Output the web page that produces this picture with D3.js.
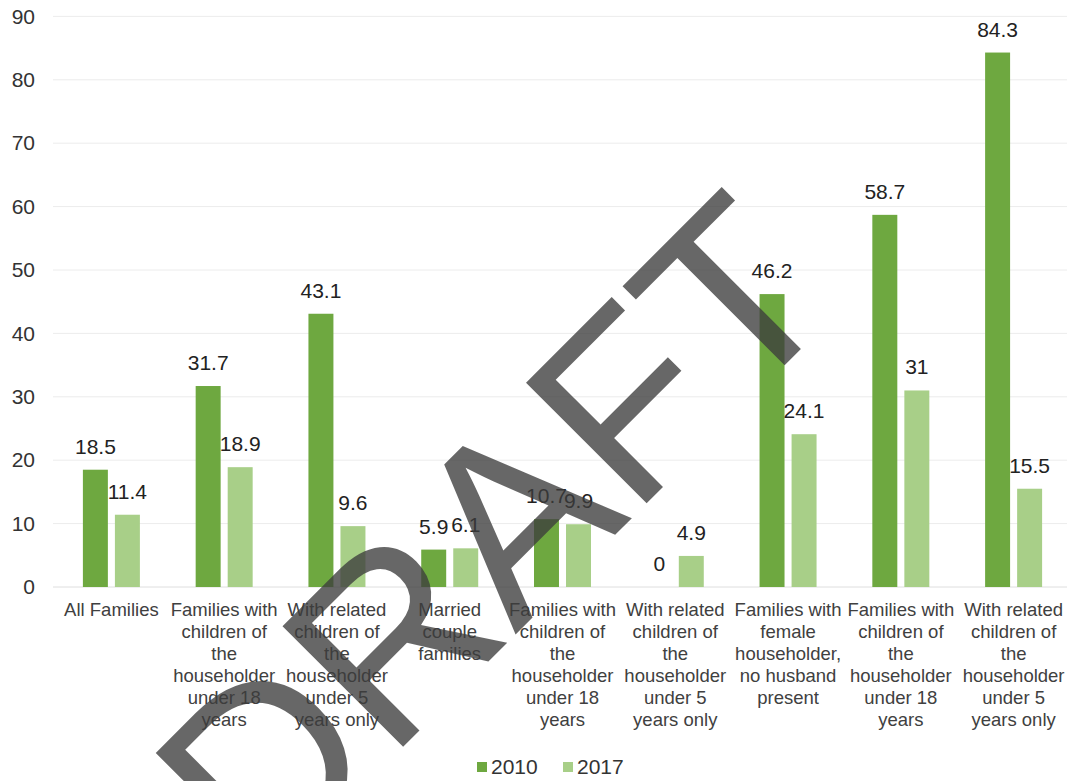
<!DOCTYPE html>
<html>
<head>
<meta charset="utf-8">
<script src="https://cdn.jsdelivr.net/npm/d3@7"></script>
<style>
  html, body { margin: 0; padding: 0; background: #fff; }
  svg { display: block; font-family: "Liberation Sans", Arial, sans-serif; }
</style>
</head>
<body>
<svg id="chart" width="1076" height="781"></svg>
<script>
// ---- data ----
const categories = [
  "All Families",
  "Families with children of the householder under 18 years",
  "With related children of the householder under 5 years only",
  "Married couple families",
  "Families with children of the householder under 18 years",
  "With related children of the householder under 5 years only",
  "Families with female householder, no husband present",
  "Families with children of the householder under 18 years",
  "With related children of the householder under 5 years only"
];
const categoryLines = [
  ["All Families"],
  ["Families with", "children of", "the", "householder", "under 18", "years"],
  ["With related", "children of", "the", "householder", "under 5", "years only"],
  ["Married", "couple", "families"],
  ["Families with", "children of", "the", "householder", "under 18", "years"],
  ["With related", "children of", "the", "householder", "under 5", "years only"],
  ["Families with", "female", "householder,", "no husband", "present"],
  ["Families with", "children of", "the", "householder", "under 18", "years"],
  ["With related", "children of", "the", "householder", "under 5", "years only"]
];
const seriesNames = ["2010", "2017"];
const values2010 = [18.5, 31.7, 43.1, 5.9, 10.7, 0, 46.2, 58.7, 84.3];
const values2017 = [11.4, 18.9, 9.6, 6.1, 9.9, 4.9, 24.1, 31, 15.5];
const yTicks = [0, 10, 20, 30, 40, 50, 60, 70, 80, 90];
const colors = ["#6EA840", "#A8CF88"];
const watermarkText = "DRAFT";

// ---- layout ----
const svg = d3.select("#chart");
const font = '"Liberation Sans", Arial, sans-serif';

const y = d3.scaleLinear().domain([0, 90]).range([587, 16.4]);
const x0 = d3.scaleBand().domain(d3.range(categories.length)).range([55, 1070]).paddingInner(0).paddingOuter(0);
const x1 = d3.scaleBand().domain(seriesNames).range([0, 57]).paddingInner(0.22).paddingOuter(0);

// gridlines
svg.append("g").selectAll("line").data(yTicks).join("line")
  .attr("x1", 53).attr("x2", 1067)
  .attr("y1", d => y(d)).attr("y2", d => y(d))
  .attr("stroke", d => d === 0 ? "#dedede" : "#ececec")
  .attr("stroke-width", 1);

// y axis labels
const yAxis = d3.axisLeft(y).tickValues(yTicks).tickSize(0).tickPadding(0);
const gy = svg.append("g").attr("transform", "translate(35,0)").call(yAxis);
gy.select(".domain").remove();
gy.selectAll("text").attr("font-size", 21).attr("font-family", font).attr("fill", "#333");

// bars
const data = categories.map((c, i) => ({ i, vals: [values2010[i], values2017[i]] }));
const groups = svg.append("g").selectAll("g").data(data).join("g")
  .attr("transform", d => `translate(${x0(d.i) + x0.bandwidth() / 2 - 28.5},0)`);

groups.selectAll("rect").data(d => d.vals.map((v, k) => ({ v, k }))).join("rect")
  .attr("x", d => x1(seriesNames[d.k]))
  .attr("width", x1.bandwidth())
  .attr("y", d => y(d.v))
  .attr("height", d => y(0) - y(d.v))
  .attr("fill", d => colors[d.k]);

groups.selectAll("text.val").data(d => d.vals.map((v, k) => ({ v, k }))).join("text")
  .attr("class", "val")
  .attr("x", d => x1(seriesNames[d.k]) + x1.bandwidth() / 2)
  .attr("y", d => y(d.v) - 16)
  .attr("text-anchor", "middle")
  .attr("font-size", 21)
  .attr("fill", "#222")
  .text(d => d.v);

// category labels
const cat = svg.append("g").selectAll("text").data(categoryLines).join("text")
  .attr("text-anchor", "middle")
  .attr("font-size", 18.5)
  .attr("fill", "#404040")
  .attr("transform", (d, i) => `translate(${x0(i) + x0.bandwidth() / 2},616)`);
cat.selectAll("tspan").data(d => d).join("tspan")
  .attr("x", 0)
  .attr("y", (d, j) => j * 22)
  .text(d => d);

// legend
const legend = svg.append("g").attr("transform", "translate(477,762)");
const litem = legend.selectAll("g").data(seriesNames).join("g")
  .attr("transform", (d, i) => `translate(${i * 86},0)`);
litem.append("rect").attr("width", 10).attr("height", 10).attr("fill", (d, i) => colors[i]);
litem.append("text").attr("x", 14).attr("y", 12).attr("font-size", 21).attr("fill", "#333").text(d => d);

// watermark
svg.append("text")
  .attr("transform", "translate(262,888) rotate(-45)")
  .attr("font-size", 248)
  .attr("font-family", font)
  .attr("fill", "#3c3c3c")
  .attr("fill-opacity", 0.78)
  .text(watermarkText);
</script>
</body>
</html>
